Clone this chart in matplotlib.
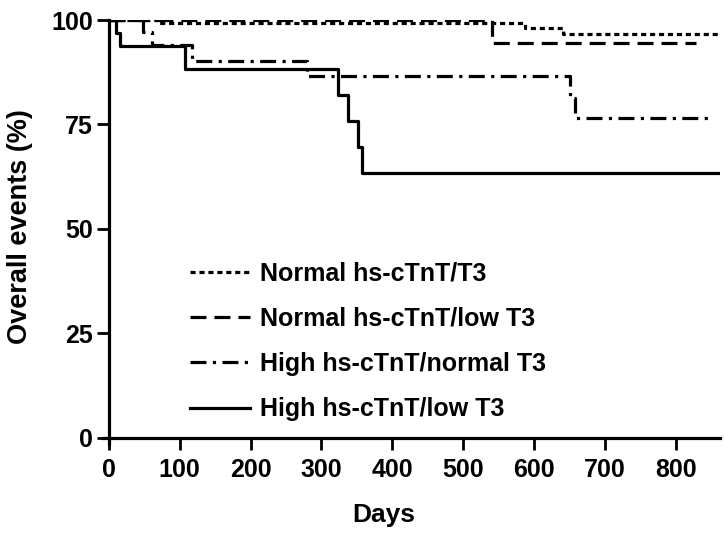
import matplotlib
matplotlib.use('Agg')
from matplotlib import pyplot as plt

plt.rcParams['font.family'] = ['Liberation Sans', 'DejaVu Sans']
plt.rcParams['font.weight'] = 'bold'

# Kaplan-Meier style step data (days, % event-free)
days_norm_t3 = [0, 70, 587, 641, 860]
surv_norm_t3 = [100, 99.3, 98.0, 96.6, 96.6]

days_norm_low = [0, 541, 828]
surv_norm_low = [100, 94.5, 94.5]

days_high_norm = [0, 48, 61, 117, 280, 650, 657, 845]
surv_high_norm = [100, 97.2, 94.0, 90.2, 86.6, 81.3, 76.6, 76.6]

days_high_low = [0, 10, 16, 107, 323, 337, 352, 357, 862]
surv_high_low = [100, 97.0, 93.8, 88.2, 82.1, 75.9, 69.7, 63.4, 63.4]

labels = ['Normal hs-cTnT/T3', 'Normal hs-cTnT/low T3',
          'High hs-cTnT/normal T3', 'High hs-cTnT/low T3']

fig = plt.figure(figsize=(7.24, 5.34), dpi=100)
ax = fig.add_axes([0.1424, 0.1685, 0.852, 0.794])

lw = 2.3
ax.plot(days_norm_t3, surv_norm_t3, drawstyle='steps-post', color='black', lw=lw,
        dashes=(1.6, 1.2), label=labels[0])
ax.plot(days_norm_low, surv_norm_low, drawstyle='steps-post', color='black', lw=lw,
        dashes=(5, 2.5), label=labels[1])
ax.plot(days_high_norm, surv_high_norm, drawstyle='steps-post', color='black', lw=lw,
        dashes=(5, 2, 1, 2), label=labels[2])
ax.plot(days_high_low, surv_high_low, drawstyle='steps-post', color='black', lw=lw,
        label=labels[3])

ax.set_xlim(-8, 862)
ax.set_ylim(-1.5, 100)
ax.spines['left'].set_position(('data', 0))
ax.spines['bottom'].set_position(('data', 0))
ax.spines['right'].set_visible(False)
ax.spines['top'].set_visible(False)
for s in ['left', 'bottom']:
    ax.spines[s].set_linewidth(2.3)

ax.set_xticks(range(0, 900, 100))
ax.set_yticks([0, 25, 50, 75, 100])
ax.tick_params(direction='out', length=8.5, width=2, labelsize=18)
ax.tick_params(axis='x', pad=6)
ax.tick_params(axis='y', pad=3)

ax.set_xlabel('Days', fontsize=19, fontweight='bold')
ax.set_ylabel('Overall events (%)', fontsize=19.5, fontweight='bold')
ax.yaxis.set_label_coords(-0.113, 0.512)
ax.xaxis.set_label_coords(0.455, -0.139)

leg = ax.legend(loc='upper left', bbox_to_anchor=(0.141, 0.43), frameon=False,
                fontsize=18, handlelength=2.4, handletextpad=0.4,
                labelspacing=0.85, borderaxespad=0, borderpad=0)

fig.savefig('out.png', dpi=100)
